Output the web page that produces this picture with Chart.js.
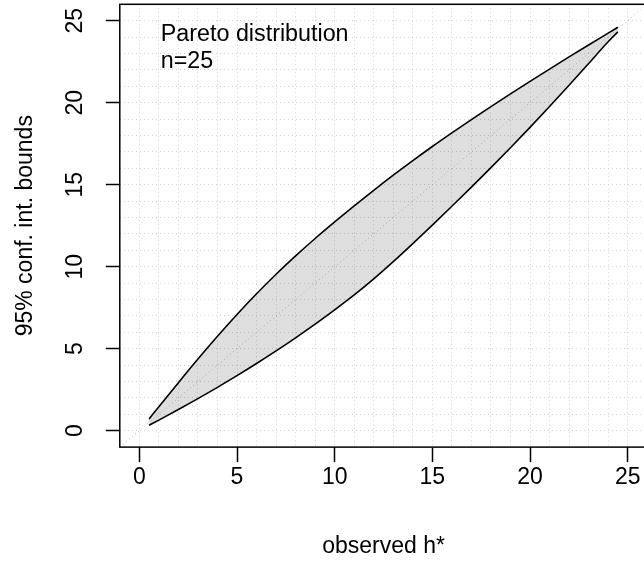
<!DOCTYPE html>
<html>
<head>
<meta charset="utf-8">
<script src="https://cdn.jsdelivr.net/npm/chart.js@4/dist/chart.umd.min.js"></script>
<style>
  html, body { margin: 0; padding: 0; background: #fff; overflow: hidden; }
  #wrap { width: 660px; height: 563px; }
</style>
</head>
<body>
<div id="wrap"><canvas id="ci" width="660" height="563"></canvas></div>
<script>
// observed h* and the 95% bounds
const hObs = [0.5, 1, 2, 3, 4, 5, 6, 7, 8, 9, 10, 11, 12, 13, 14, 15, 16, 17, 18, 19, 20, 21, 22, 23, 24, 24.5];
const upperBound = [0.72, 1.46, 2.93, 4.37, 5.76, 7.09, 8.35, 9.54, 10.66, 11.72, 12.73, 13.71, 14.66, 15.58,
  16.47, 17.33, 18.16, 18.97, 19.76, 20.54, 21.30, 22.05, 22.79, 23.52, 24.24, 24.60];
const lowerBound = [0.33, 0.645, 1.29, 1.955, 2.645, 3.355, 4.095, 4.865, 5.665, 6.495, 7.365, 8.275, 9.255, 10.305,
  11.405, 12.535, 13.685, 14.855, 16.045, 17.255, 18.495, 19.765, 21.065, 22.385, 23.715, 24.315];

const xTicks = [0, 5, 10, 15, 20, 25];
const yTicks = [0, 5, 10, 15, 20, 25];
const xRange = [-1, 26];
const yRange = [-1, 26];
const noteLines = ["Pareto distribution", "n=25"];

const FONT = '"Liberation Sans", Arial, Helvetica, sans-serif';

const pts = ys => hObs.map((h, i) => ({ x: h, y: ys[i] }));

// box round the plot region + the note in the top left corner
const frame = {
  id: "frame",
  afterDraw(chart) {
    const { ctx, chartArea: a } = chart;
    ctx.save();
    ctx.strokeStyle = "#000";
    ctx.lineWidth = 1.5;
    ctx.strokeRect(a.left, a.top, a.right - a.left, a.bottom - a.top);
    ctx.fillStyle = "#000";
    ctx.font = "23.3px " + FONT;
    ctx.textBaseline = "alphabetic";
    noteLines.forEach((t, i) => ctx.fillText(t, a.left + 41, a.top + 36.4 + i * 27.6));
    ctx.restore();
  }
};

function axis(range, ticks, title, vertical) {
  return {
    type: "linear",
    min: range[0],
    max: range[1],
    afterFit: s => {
      if (vertical) s.width = 119.8;
      else s.height = 115.9;
      // no extra room for half labels at the ends
      s.paddingTop = 0;
      s.paddingBottom = 0;
      s.paddingLeft = 0;
      s.paddingRight = 0;
    },
    ticks: {
      stepSize: 1,
      autoSkip: false,
      minRotation: vertical ? 90 : 0,
      maxRotation: vertical ? 90 : 0,
      crossAlign: "center",
      padding: vertical ? 17 : 16,
      color: "#000",
      font: { family: FONT, size: 23 },
      callback: v => ticks.includes(v) ? String(v) : ""
    },
    grid: {
      color: "#d3d3d3",
      lineWidth: 1,
      drawTicks: true,
      tickLength: vertical ? 14 : 15,
      tickWidth: 1.5,
      tickColor: ctx => ctx.tick && ticks.includes(ctx.tick.value) ? "#000" : "rgba(0,0,0,0)"
    },
    border: { display: false, dash: [1, 3] },
    title: {
      display: true,
      text: title,
      color: "#000",
      font: { family: FONT, size: 23 },
      padding: vertical ? { top: 12 } : { top: 0, bottom: 3 }
    }
  };
}

new Chart(document.getElementById("ci"), {
  type: "line",
  data: {
    datasets: [
      {
        label: "upper",
        data: pts(upperBound),
        borderColor: "#000",
        borderWidth: 1.6,
        backgroundColor: "rgba(0,0,0,0.13)",
        fill: 1,
        pointRadius: 0,
        cubicInterpolationMode: "monotone"
      },
      {
        label: "lower",
        data: pts(lowerBound),
        borderColor: "#000",
        borderWidth: 1.6,
        fill: false,
        pointRadius: 0,
        cubicInterpolationMode: "monotone"
      },
      {
        label: "y = x",
        data: xRange.map(v => ({ x: v, y: v })),
        borderColor: "#bebebe",
        borderWidth: 1,
        borderDash: [1, 3],
        fill: false,
        pointRadius: 0
      }
    ]
  },
  options: {
    responsive: false,
    animation: false,
    layout: { padding: { top: 4.3, right: 12.8, left: 0, bottom: 0 } },
    plugins: {
      legend: { display: false },
      tooltip: { enabled: false }
    },
    scales: {
      x: axis(xRange, xTicks, "observed h*", false),
      y: axis(yRange, yTicks, "95% conf. int. bounds", true)
    }
  },
  plugins: [frame]
});
</script>
</body>
</html>
